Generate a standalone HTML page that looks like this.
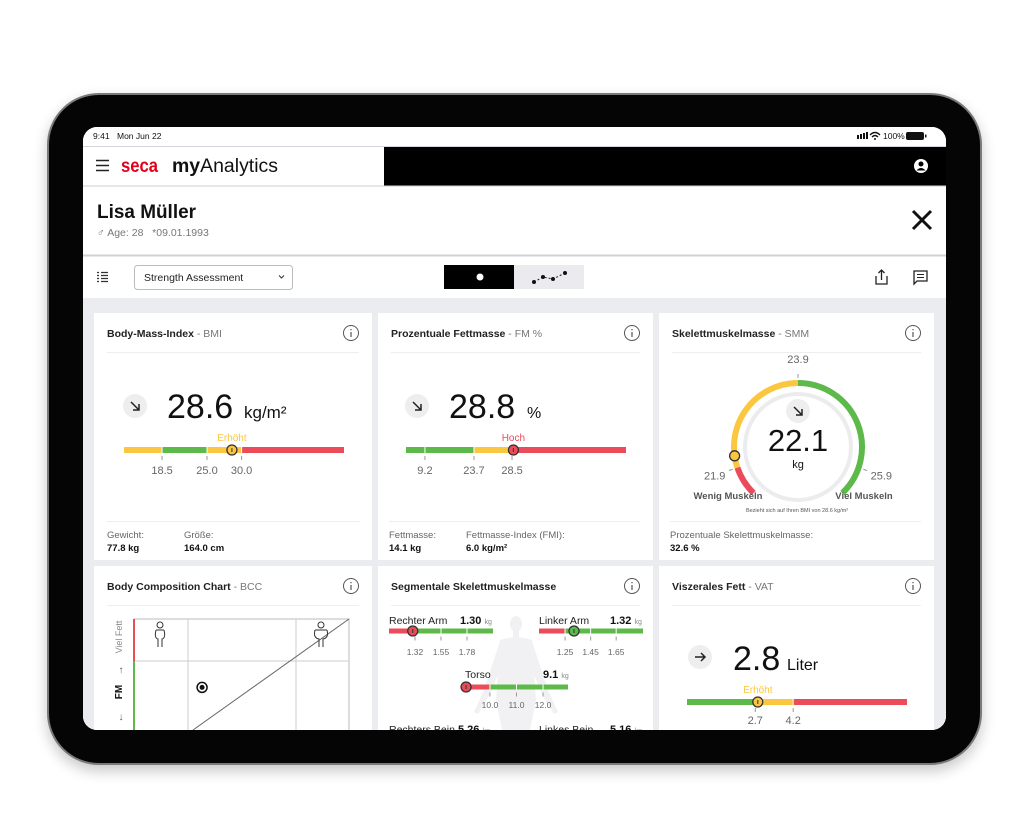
<!DOCTYPE html>
<html><head><meta charset="utf-8"><style>
html,body{margin:0;padding:0;background:#fff;width:1024px;height:819px;overflow:hidden;font-family:"Liberation Sans",sans-serif}
#frame{position:absolute;left:47px;top:93px;width:931px;height:668px;border-radius:52px;background:#050505;border:2px solid #7a7a7a;box-shadow:0 6px 14px rgba(0,0,0,.22)}
#screen{position:absolute;left:83px;top:127px;width:863px;height:603px;border-radius:14px;overflow:hidden;background:#fff}
svg text{font-family:"Liberation Sans",sans-serif}
</style></head><body>
<div id="frame"></div>
<div id="screen">
<svg id="s" width="863" height="603" viewBox="83 127 863 603" xmlns="http://www.w3.org/2000/svg">
<rect x="83" y="127" width="863" height="603" fill="#fff"/>
<g>
<text x="93" y="139" font-size="8.5" fill="#111">9:41</text>
<text x="117" y="139" font-size="8.5" fill="#111">Mon Jun 22</text>
<rect x="857" y="135" width="2" height="4" fill="#111"/><rect x="860" y="134" width="2" height="5" fill="#111"/><rect x="863" y="133" width="2" height="6" fill="#111"/><rect x="866" y="132" width="2" height="7" fill="#111"/>
<path d="M870 135 Q875 130 880 135 M872 137 Q875 134 878 137" stroke="#111" stroke-width="1.3" fill="none"/><circle cx="875" cy="139" r="1" fill="#111"/>
<text x="883" y="139" font-size="8.5" fill="#111">100%</text>
<rect x="906" y="132" width="18" height="8" rx="2" fill="#111"/><rect x="925" y="134.5" width="1.5" height="3" fill="#111"/>
</g>
<line x1="83" y1="146.5" x2="946" y2="146.5" stroke="#d5d5dc"/>
<rect x="384" y="147" width="562" height="39" fill="#000"/>
<g><path d="M96 160.5h13M96 165.5h13M96 170.5h13" stroke="#222" stroke-width="1.6"/></g>
<text x="121" y="172" font-size="19" font-weight="bold" fill="#e3001b" textLength="37" lengthAdjust="spacingAndGlyphs">seca</text>
<text x="172" y="172" font-size="19" fill="#111" textLength="106" lengthAdjust="spacingAndGlyphs"><tspan font-weight="bold">my</tspan>Analytics</text>
<g><circle cx="921" cy="166" r="7" fill="#fff"/><circle cx="921" cy="164" r="2.5" fill="#000"/><path d="M916.5 170.5 Q921 165.5 925.5 170.5" fill="#000"/></g>
<line x1="83" y1="186" x2="946" y2="186" stroke="#cfcfd6"/>
<text x="97" y="218" font-size="19" font-weight="bold" fill="#111" textLength="99" lengthAdjust="spacingAndGlyphs">Lisa Müller</text>
<text x="97" y="236" font-size="10.5" fill="#777">♂ Age: 28 &#160; *09.01.1993</text>
<g><path d="M913 211L931 229M931 211L913 229" stroke="#111" stroke-width="3"/></g>
<line x1="83" y1="255.5" x2="946" y2="255.5" stroke="#d0d0d8" stroke-width="2"/>
<g><path d="M97 272.5h2M97 275.5h2M97 278.5h2M97 281.5h2M101 272.5h7M101 275.5h7M101 278.5h7M101 281.5h7" stroke="#333" stroke-width="1.2"/></g>
<g><rect x="134.5" y="265.5" width="158" height="24" rx="3" fill="#fff" stroke="#bbb"/>
<text x="144" y="281" font-size="10.5" fill="#222">Strength Assessment</text><path d="M279 275.5l2.5 2.5 2.5-2.5" stroke="#333" fill="none" stroke-width="1"/></g>
<g><rect x="444" y="265" width="70" height="24" fill="#000"/><circle cx="480" cy="277" r="3.5" fill="#fff"/>
<rect x="514" y="265" width="70" height="24" fill="#ebebef"/><path d="M534 282L543 277L553 279L565 273" stroke="#222" stroke-dasharray="2 2" fill="none"/>
<circle cx="534" cy="282" r="2" fill="#111"/><circle cx="543" cy="277" r="2" fill="#111"/><circle cx="553" cy="279" r="2" fill="#111"/><circle cx="565" cy="273" r="2" fill="#111"/></g>
<g><path d="M876 276v8h11v-8M881.5 270v10M878.5 273l3-3 3 3" stroke="#222" fill="none" stroke-width="1.3"/></g>
<g><path d="M914 271h13v10h-10l-3 3z" stroke="#222" fill="none" stroke-width="1.3"/><path d="M917 274.5h7M917 277.5h7" stroke="#222"/></g>
<rect x="83" y="298" width="863" height="432" fill="#ebecf0"/>
<g id="cards"></g>
</svg></div>
<script>
// ---- data ----
const bmiDomain=[13,44.8]; const bmiStops=[18.5,25.0,30.0]; const bmiTicks=[18.5,25.0,30.0]; const bmiValue=28.6;
const fmDomain=[3.6,53.8]; const fmStops=[23.7,28.5]; const fmTicks=[9.2,23.7,28.5]; const fmValue=28.8;
const smmDomain=[21.4,26.4]; const smmStops=[21.9,23.9]; const smmTicks=[21.9,23.9,25.9]; const smmValue=22.1;
const raDomain=[1.09,2.01]; const raStops=[1.32]; const raTicks=[1.32,1.55,1.78]; const raValue=1.30;
const laDomain=[1.046,1.86]; const laStops=[1.25]; const laTicks=[1.25,1.45,1.65]; const laValue=1.32;
const toDomain=[9.06,12.94]; const toStops=[10.0]; const toTicks=[10.0,11.0,12.0]; const toValue=9.1;
const vatDomain=[0,8.7]; const vatStops=[2.7,4.2]; const vatTicks=[2.7,4.2]; const vatValue=2.8;
const bccXDomain=[13,22]; const bccYDomain=[0,10]; const bccX=15.85; const bccY=6.0;
// ---- styles ----
const Y='#fbc740',G='#5cb94a',R='#ec4b5a';
const fmZoneLayout=[0,0.309,0.482,1];
const NS='http://www.w3.org/2000/svg';
const root=document.getElementById('cards');
function mk(tag,attrs,parent){const e=document.createElementNS(NS,tag);for(const k in attrs)e.setAttribute(k,attrs[k]);(parent||root).appendChild(e);return e;}
function txt(x,y,s,size,fill,extra,parent){const t=mk('text',Object.assign({x:x,y:y,'font-size':size,fill:fill},extra||{}),parent);t.textContent=s;return t;}

// cards
const cardBoxes=[[94,313,278,247],[378,313,275,247],[659,313,275,247],[94,566,278,200],[378,566,275,200],[659,566,275,200]];
const cardNames=['bmi-card','fat-mass-card','skeletal-muscle-card','body-composition-card','segmental-muscle-card','visceral-fat-card'];
const titles=[['Body-Mass-Index',' - BMI'],['Prozentuale Fettmasse',' - FM %'],['Skelettmuskelmasse',' - SMM'],['Body Composition Chart',' - BCC'],['Segmentale Skelettmuskelmasse',''],['Viszerales Fett',' - VAT']];
cardBoxes.forEach((b,i)=>{
  const r=mk('rect',{x:b[0],y:b[1],width:b[2],height:b[3],fill:'#fff'});
  
  
  const ty=b[1]+24;
  const t=txt(b[0]+13,ty,'',10.5,'#222',{'font-weight':'bold'});
  
  
  const s1=mk('tspan',{},t);s1.textContent=titles[i][0];
  const s2=mk('tspan',{'font-weight':'normal',fill:'#777'},t);s2.textContent=titles[i][1];
  const ic=mk('g',{});
  
  
  const cx=b[0]+b[2]-21, cy=b[1]+20;
  mk('circle',{cx:cx,cy:cy,r:7.5,fill:'none',stroke:'#555','stroke-width':1},ic);
  mk('path',{d:`M${cx} ${cy-1}v5M${cx} ${cy-4}v1.2`,stroke:'#555','stroke-width':1.2},ic);
  mk('line',{x1:b[0]+13,y1:b[1]+39.5,x2:b[0]+b[2]-13,y2:b[1]+39.5,stroke:'#eee'});
});

function arrowCircle(cx,cy,dir){
  const g=mk('g',{});
  
  
  mk('circle',{cx:cx,cy:cy,r:12,fill:'#eeeeef'},g);
  const d=dir==='right'?`M${cx-5} ${cy}h10M${cx+1} ${cy-4}l4 4-4 4`:`M${cx-4} ${cy-4}l8 8M${cx+4} ${cy-2}v6h-6`;
  mk('path',{d:d,stroke:'#222','stroke-width':1.5,fill:'none'},g);
}

function drawBar(name,x0,x1,cy,h,domain,stops,zones,ticks,value,label,labelColor,tickFont,tickDy,dec,layout){
  const bounds=[domain[0]].concat(stops,[domain[1]]);
  const sc=v=>{
    v=Math.max(domain[0],Math.min(domain[1],v));
    if(!layout) return x0+(v-domain[0])/(domain[1]-domain[0])*(x1-x0);
    for(let i=0;i<bounds.length-1;i++){
      if(v<=bounds[i+1]||i===bounds.length-2){
        const f=layout[i]+(v-bounds[i])/(bounds[i+1]-bounds[i])*(layout[i+1]-layout[i]);
        return x0+f*(x1-x0);
      }
    }
  };
  const g=mk('g',{});
  
  
  for(let i=0;i<bounds.length-1;i++){
    const seg=mk('rect',{x:sc(bounds[i]),y:cy-h/2,width:sc(bounds[i+1])-sc(bounds[i]),height:h,fill:zones[i]},g);
    
    
  }
  ticks.forEach(t=>{
    const x=sc(t);
    mk('line',{x1:x,y1:cy-h/2,x2:x,y2:cy+h/2,stroke:'#fff','stroke-width':1},g);
    mk('line',{x1:x,y1:cy+h/2+3,x2:x,y2:cy+h/2+7,stroke:'#999','stroke-width':1},g);
    const tl=txt(x,cy+tickDy,t.toFixed(dec),tickFont,'#666',{'text-anchor':'middle'},g);
    
    
  });
  const mx=sc(value);
  let zc=zones[0];for(let i=0;i<stops.length;i++)if(value>=stops[i])zc=zones[i+1];
  const m=mk('circle',{cx:mx,cy:cy,r:5,fill:zc,stroke:'#333','stroke-width':1.3},g);
  
  
  mk('line',{x1:mx,y1:cy-2,x2:mx,y2:cy+2,stroke:'#333','stroke-width':1},g);
  if(label){const l=txt(mx,cy-9,label,10,labelColor,{'text-anchor':'middle'},g);
    
    }
}

// BMI
arrowCircle(135,406,'down');
let t=txt(167,418,bmiValue.toFixed(1),34,'#111');
t=txt(244,418,'kg/m²',17,'#111');
drawBar('bmi-bar',124,344,450,6,bmiDomain,bmiStops,[Y,G,Y,R],bmiTicks,bmiValue,'Erhöht',Y,11,24,1);
mk('line',{x1:107,y1:521.5,x2:360,y2:521.5,stroke:'#eee'});
txt(107,538,'Gewicht:',9.5,'#666');txt(107,551,'77.8 kg',9.5,'#111',{'font-weight':'bold'});
txt(184,538,'Größe:',9.5,'#666');txt(184,551,'164.0 cm',9.5,'#111',{'font-weight':'bold'});

// FM
arrowCircle(417,406,'down');
t=txt(449,418,fmValue.toFixed(1),34,'#111');
txt(527,418,'%',16,'#111');
drawBar('fm-bar',406,626,450,6,fmDomain,fmStops,[G,Y,R],fmTicks,fmValue,'Hoch',R,11,24,1,fmZoneLayout);
mk('line',{x1:389,y1:521.5,x2:640,y2:521.5,stroke:'#eee'});
txt(389,538,'Fettmasse:',9.5,'#666');txt(389,551,'14.1 kg',9.5,'#111',{'font-weight':'bold'});
txt(466,538,'Fettmasse-Index (FMI):',9.5,'#666');txt(466,551,'6.0 kg/m²',9.5,'#111',{'font-weight':'bold'});

// SMM gauge
(function(){
  const cx=798,cy=447,r=64,a0=-136,a1=136;
  const ang=v=>a0+(Math.max(smmDomain[0],Math.min(smmDomain[1],v))-smmDomain[0])/(smmDomain[1]-smmDomain[0])*(a1-a0);
  const pt=(a,rr)=>[cx+rr*Math.sin(a*Math.PI/180),cy-rr*Math.cos(a*Math.PI/180)];
  const g=mk('g',{});
  
  
  const inner=mk('circle',{cx:cx,cy:cy,r:53,fill:'#fff',stroke:'#ececee','stroke-width':4},g);
  
  
  const bounds=[smmDomain[0]].concat(smmStops,[smmDomain[1]]);const zones=[R,Y,G];
  for(let i=0;i<3;i++){
    const s=ang(bounds[i]),e=ang(bounds[i+1]);const p=pt(s,r),q=pt(e,r);
    const arc=mk('path',{d:`M${p[0]} ${p[1]}A${r} ${r} 0 ${e-s>180?1:0} 1 ${q[0]} ${q[1]}`,stroke:zones[i],'stroke-width':6,fill:'none'},g);
    
    
  }
  smmTicks.forEach(v=>{
    const a=ang(v);const p=pt(a,r+5),q=pt(a,r+9),l=pt(a,r+24);
    mk('line',{x1:p[0],y1:p[1],x2:q[0],y2:q[1],stroke:'#999'},g);
    const tl=txt(l[0],l[1]+4,v.toFixed(1),11,'#666',{'text-anchor':'middle'},g);
    
    
  });
  const m=pt(ang(smmValue),r);
  const mc=mk('circle',{cx:m[0],cy:m[1],r:5,fill:Y,stroke:'#333','stroke-width':1.3},g);
  
  
})();
arrowCircle(798,411,'down');
t=txt(798,451,smmValue.toFixed(1),31,'#111',{'text-anchor':'middle'});
txt(798,468,'kg',11,'#111',{'text-anchor':'middle'});
txt(728,499,'Wenig Muskeln',9.5,'#555',{'text-anchor':'middle','font-weight':'bold'});
txt(864,499,'Viel Muskeln',9.5,'#555',{'text-anchor':'middle','font-weight':'bold'});
txt(797,512,'Bezieht sich auf Ihren BMI von 28.6 kg/m²',5.5,'#555',{'text-anchor':'middle'});
mk('line',{x1:670,y1:521.5,x2:921,y2:521.5,stroke:'#eee'});
txt(670,538,'Prozentuale Skelettmuskelmasse:',9.5,'#666');txt(670,551,'32.6 %',9.5,'#111',{'font-weight':'bold'});

// BCC
(function(){
  const L=134,Rr=349,T=619,B=790;
  const sx=v=>L+(v-bccXDomain[0])/(bccXDomain[1]-bccXDomain[0])*(Rr-L);
  const sy=v=>B-(v-bccYDomain[0])/(bccYDomain[1]-bccYDomain[0])*(B-T);
  const g=mk('g',{});
  
  
  mk('rect',{x:L,y:T,width:Rr-L,height:B-T,fill:'none',stroke:'#bbb'},g);
  mk('line',{x1:188,y1:T,x2:188,y2:B,stroke:'#ccc'},g);
  mk('line',{x1:296,y1:T,x2:296,y2:B,stroke:'#ccc'},g);
  mk('line',{x1:L,y1:661,x2:Rr,y2:661,stroke:'#ccc'},g);
  mk('line',{x1:L,y1:T,x2:L,y2:661,stroke:R,'stroke-width':2},g);
  mk('line',{x1:L,y1:661,x2:L,y2:B,stroke:G,'stroke-width':2},g);
  mk('line',{x1:193,y1:730,x2:Rr,y2:T,stroke:'#666'},g);
  [[160,634,4],[321,634,6]].forEach(p=>{
    const pg=mk('g',{},g);
    
    
    mk('circle',{cx:p[0],cy:p[1]-9,r:3,fill:'none',stroke:'#333'},pg);
    mk('path',{d:`M${p[0]-p[2]} ${p[1]-4}Q${p[0]-p[2]-2} ${p[1]+4} ${p[0]-2} ${p[1]+5}V${p[1]+13}M${p[0]+p[2]} ${p[1]-4}Q${p[0]+p[2]+2} ${p[1]+4} ${p[0]+2} ${p[1]+5}V${p[1]+13}M${p[0]-p[2]} ${p[1]-4}H${p[0]+p[2]}`,fill:'none',stroke:'#333'},pg);
  });
  const d=mk('circle',{cx:sx(bccX),cy:sy(bccY),r:5,fill:'#fff',stroke:'#111','stroke-width':1.5},g);
  
  
  mk('circle',{cx:sx(bccX),cy:sy(bccY),r:2.5,fill:'#111'},g);
  const yl=txt(0,0,'Viel Fett',9,'#888',{'text-anchor':'middle',transform:'translate(122,637) rotate(-90)'},g);
  
  
  txt(121,673,'↑',10,'#555',{'text-anchor':'middle'},g);
  const fm=txt(0,0,'FM',10,'#111',{'text-anchor':'middle','font-weight':'bold',transform:'translate(122,692) rotate(-90)'},g);
  
  
  txt(121,720,'↓',10,'#555',{'text-anchor':'middle'},g);
})();

// Segmental
(function(){
  const g=mk('g',{fill:'#f1f1f3'});
  
  
  mk('ellipse',{cx:516,cy:624,rx:6,ry:8},g);
  mk('rect',{x:513,y:630,width:6,height:8},g);
  mk('path',{d:'M500 640Q516 635 532 640L536 700L528 740H504L496 700Z'},g);
  mk('path',{d:'M500 641L484 690L474 712L478 714L490 694L504 660Z'},g);
  mk('path',{d:'M532 641L548 690L558 712L554 714L542 694L528 660Z'},g);
})();
function segHead(x,y,name,val,vx,dec){
  const a=txt(x,y,name,10.5,'#222');
  const v=txt(vx,y,'',11,'#111',{'font-weight':'bold'});
  const s1=mk('tspan',{},v);s1.textContent=val.toFixed(dec)+' ';
  const s2=mk('tspan',{'font-size':7,'font-weight':'normal',fill:'#888'},v);s2.textContent='kg';
}
segHead(389,624,'Rechter Arm',raValue,460,2);
drawBar('right-arm-bar',389,493,631,5,raDomain,raStops,[R,G],raTicks,raValue,'',null,8.5,24,2);
segHead(539,624,'Linker Arm',laValue,610,2);
drawBar('left-arm-bar',539,643,631,5,laDomain,laStops,[R,G],laTicks,laValue,'',null,8.5,24,2);
segHead(465,678,'Torso',toValue,543,1);
drawBar('torso-bar',465,568,687,5,toDomain,toStops,[R,G],toTicks,toValue,'',null,8.5,21,1);
segHead(389,733,'Rechters Bein',5.26,458,2);
segHead(539,733,'Linkes Bein',5.16,610,2);

// VAT
arrowCircle(700,657,'right');
t=txt(733,670,vatValue.toFixed(1),34,'#111');
txt(787,670,'Liter',16,'#111');
drawBar('vat-bar',687,907,702,6,vatDomain,vatStops,[G,Y,R],vatTicks,vatValue,'Erhöht',Y,11,22,1);
</script>
</body></html>
